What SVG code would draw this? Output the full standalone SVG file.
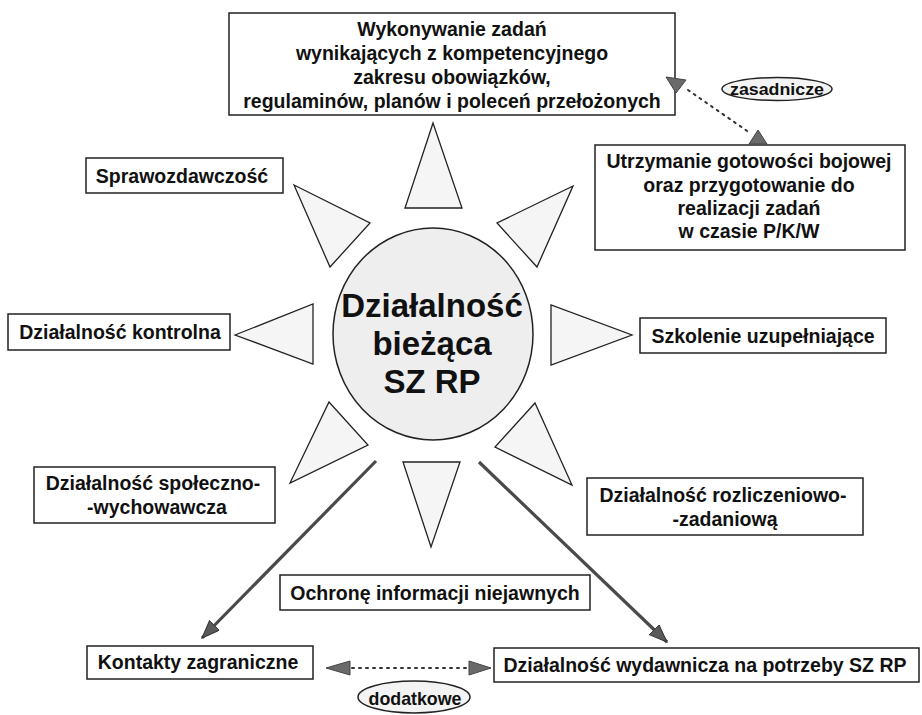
<svg xmlns="http://www.w3.org/2000/svg" width="922" height="715" viewBox="0 0 922 715">
<defs>
<style>
.box{fill:#fff;stroke:#222;stroke-width:1.5}
.t{font-family:"Liberation Sans",Arial,sans-serif;font-weight:bold;font-size:19.5px;fill:#111;text-anchor:middle}
.big{font-size:33px}
.ray{fill:#f5f5f5;stroke:#222;stroke-width:1.3;stroke-linejoin:miter}
.lbl{fill:#f3f3f3;stroke:#222;stroke-width:1.5}
.dot{fill:none;stroke:#333;stroke-width:2;stroke-dasharray:2 5;stroke-linecap:round}
.head{fill:#6a6a6a;stroke:#444;stroke-width:1}
.arr{stroke:#4a4a4a;stroke-width:3.2;fill:none}
</style>
<marker id="ah" markerUnits="userSpaceOnUse" markerWidth="20" markerHeight="16" refX="18" refY="7" orient="auto">
<path d="M0,0 L18,7 L0,14 z" fill="#5a5a5a" stroke="#333" stroke-width="1"/>
</marker>
</defs>

<g id="center">
<ellipse cx="433" cy="334" rx="100" ry="106" fill="#eeeeee" stroke="#222" stroke-width="1.5"/>
<text class="t big" x="432" y="317">Działalność</text>
<text class="t big" x="432" y="355">bieżąca</text>
<text class="t big" x="432" y="393">SZ RP</text>
</g>

<g id="rays">
<polygon class="ray" points="433,123 405,208 462,208"/>
<polygon class="ray" points="573,186 497,223 537,267"/>
<polygon class="ray" points="294,185 370,223 330,267"/>
<polygon class="ray" points="235,335 313,304 313,364"/>
<polygon class="ray" points="551,305 551,365 632,335"/>
<polygon class="ray" points="329,402 368,445 290,483"/>
<polygon class="ray" points="403,462 460,462 431,547"/>
<polygon class="ray" points="535,403 495,447 572,485"/>
</g>

<g id="n-wykonywanie">
<rect class="box" x="229" y="13" width="446" height="102"/>
<text class="t" x="452" y="36">Wykonywanie zadań</text>
<text class="t" x="452" y="60">wynikających z kompetencyjnego</text>
<text class="t" x="452" y="84">zakresu obowiązków,</text>
<text class="t" x="452" y="108">regulaminów, planów i poleceń przełożonych</text>
</g>

<g id="n-utrzymanie">
<rect class="box" x="595" y="145" width="310" height="105"/>
<text class="t" x="749" y="168">Utrzymanie gotowości bojowej</text>
<text class="t" x="749" y="192">oraz przygotowanie do</text>
<text class="t" x="749" y="215">realizacji zadań</text>
<text class="t" x="749" y="238">w czasie P/K/W</text>
</g>

<g id="n-sprawozdawczosc">
<rect class="box" x="86" y="158" width="197" height="35"/>
<text class="t" x="182" y="183">Sprawozdawczość</text>
</g>

<g id="n-kontrolna">
<rect class="box" x="8" y="314" width="222" height="36"/>
<text class="t" x="120" y="339">Działalność kontrolna</text>
</g>

<g id="n-szkolenie">
<rect class="box" x="640" y="318" width="246" height="35"/>
<text class="t" x="763" y="343">Szkolenie uzupełniające</text>
</g>

<g id="n-spoleczno">
<rect class="box" x="34" y="467" width="241" height="56"/>
<text class="t" x="153" y="490">Działalność społeczno-</text>
<text class="t" x="157" y="514">-wychowawcza</text>
</g>

<g id="n-rozliczeniowo">
<rect class="box" x="587" y="478" width="276" height="57"/>
<text class="t" x="723" y="502">Działalność rozliczeniowo-</text>
<text class="t" x="725" y="526">-zadaniową</text>
</g>

<g id="n-ochrona">
<rect class="box" x="280" y="575" width="310" height="35"/>
<text class="t" x="435" y="600">Ochronę informacji niejawnych</text>
</g>

<g id="n-kontakty">
<rect class="box" x="87" y="646" width="226" height="33"/>
<text class="t" x="198" y="669">Kontakty zagraniczne</text>
</g>

<g id="n-wydawnicza">
<rect class="box" x="494" y="648" width="425" height="34"/>
<text class="t" x="705" y="672">Działalność wydawnicza na potrzeby SZ RP</text>
</g>

<g id="l-zasadnicze">
<ellipse class="lbl" cx="777" cy="89" rx="55" ry="11.5"/>
<text class="t" x="777" y="94.5" style="font-size:17px" textLength="94" lengthAdjust="spacingAndGlyphs">zasadnicze</text>
</g>

<g id="l-dodatkowe">
<ellipse class="lbl" cx="414" cy="697" rx="56" ry="16"/>
<text class="t" x="415" y="705" style="font-size:19px" textLength="93" lengthAdjust="spacingAndGlyphs">dodatkowe</text>
</g>

<g id="connectors">
<line class="arr" x1="376" y1="461" x2="202" y2="638" marker-end="url(#ah)"/>
<line class="arr" x1="479" y1="462" x2="667" y2="642" marker-end="url(#ah)"/>
<line class="dot" x1="688" y1="90" x2="750" y2="133"/>
<polygon class="head" points="666,77 686,80 676,93"/>
<polygon class="head" points="758,130 767,144 749,144"/>
<line class="dot" x1="352" y1="668" x2="469" y2="668"/>
<polygon class="head" points="326,668 350,661 350,675"/>
<polygon class="head" points="491,668 469,661 469,675"/>
</g>
</svg>
